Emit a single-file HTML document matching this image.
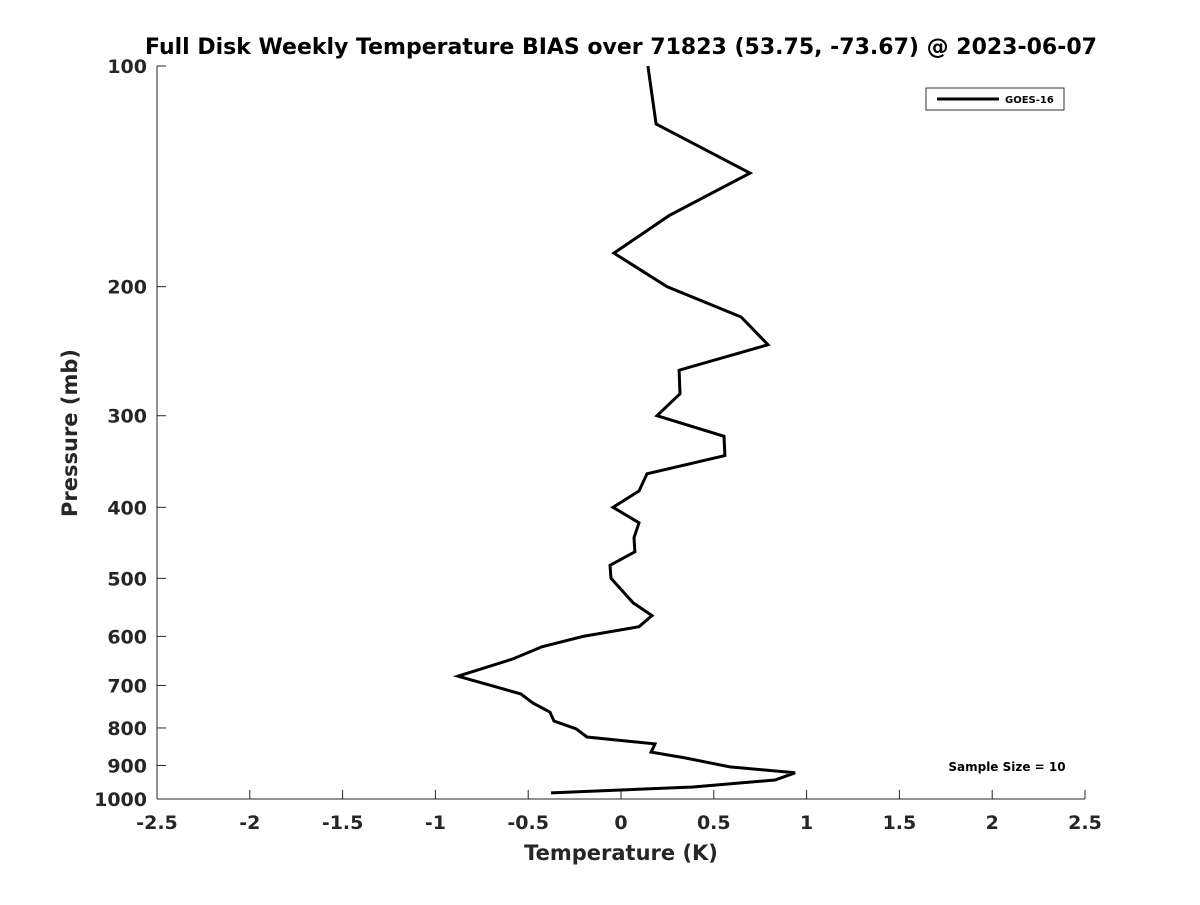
<!DOCTYPE html>
<html><head><meta charset="utf-8"><style>
body{margin:0;background:#fff;font-family:"Liberation Sans","DejaVu Sans",sans-serif}
</style></head><body>
<svg width="1200" height="900" xmlns="http://www.w3.org/2000/svg" id="svg" font-family="DejaVu Sans, Liberation Sans, sans-serif">
<rect width="1200" height="900" fill="#fff"/>
<text x="621" y="54" text-anchor="middle" font-size="22" font-weight="bold">Full Disk Weekly Temperature BIAS over 71823 (53.75, -73.67) @ 2023-06-07</text>
<g id="axes"></g>
<text x="621" y="860" text-anchor="middle" font-size="21" font-weight="bold" fill="#262626">Temperature (K)</text>
<text transform="translate(77,433) rotate(-90)" text-anchor="middle" font-size="21" font-weight="bold" fill="#262626">Pressure (mb)</text>
<g>
<rect x="926" y="88" width="138" height="22" fill="#fff" stroke="#000" stroke-width="0.8"/>
<line x1="937" y1="99" x2="999" y2="99" stroke="#000" stroke-width="3"/>
<text x="1005" y="103" font-size="10" font-weight="bold">GOES-16</text>
</g>
<text x="1007" y="771" text-anchor="middle" font-size="12" font-weight="bold">Sample Size = 10</text>
</svg>
<script>
const xTicks=[-2.5,-2,-1.5,-1,-0.5,0,0.5,1,1.5,2,2.5];
const xTickLabels=["-2.5","-2","-1.5","-1","-0.5","0","0.5","1","1.5","2","2.5"];
const yTicks=[100,200,300,400,500,600,700,800,900,1000];
const yTickLabels=["100","200","300","400","500","600","700","800","900","1000"];
const pressure=[100,120,140,160,180,200,220,240,260,280,300,320,340,360,380,400,420,440,460,480,500,540,562,582,600,620,644,680,719,740,761,783,802,823,841,863,879,904,921,942,963,981];
const bias=[0.145,0.189,0.695,0.259,-0.038,0.248,0.647,0.792,0.313,0.318,0.194,0.555,0.560,0.140,0.097,-0.043,0.097,0.070,0.075,-0.059,-0.054,0.065,0.167,0.097,-0.205,-0.426,-0.582,-0.878,-0.539,-0.474,-0.383,-0.361,-0.242,-0.183,0.183,0.162,0.345,0.587,0.938,0.830,0.388,-0.377];
const L=157,R=1085,T=66,B=799;
const xs=v=>L+(v+2.5)/5*(R-L);
const ys=p=>T+(Math.log10(p)-2)*(B-T);
const NS="http://www.w3.org/2000/svg";
const svg=document.getElementById('svg');const ax=document.getElementById('axes');
function mk(tag,attrs,parent){const e=document.createElementNS(NS,tag);for(const k in attrs)e.setAttribute(k,attrs[k]);(parent||svg).appendChild(e);return e;}
let e=mk('line',{x1:L,y1:B,x2:R,y2:B,stroke:'#262626','stroke-width':1},ax);


e=mk('line',{x1:L,y1:T,x2:L,y2:B,stroke:'#262626','stroke-width':1},ax);


xTicks.forEach((v,i)=>{const x=xs(v);
 let t=mk('line',{x1:x,y1:B,x2:x,y2:B-9,stroke:'#262626'},ax);
 
 
 let l=mk('text',{x:x,y:829,'text-anchor':'middle','font-size':19,'font-weight':'bold',fill:'#262626'},ax);l.textContent=xTickLabels[i];
 
 
});
yTicks.forEach((v,i)=>{const y=ys(v);
 let t=mk('line',{x1:L,y1:y,x2:L+9,y2:y,stroke:'#262626'},ax);
 
 
 let l=mk('text',{x:147,y:y+7,'text-anchor':'end','font-size':19,'font-weight':'bold',fill:'#262626'},ax);l.textContent=yTickLabels[i];
 
 
});
const pts=pressure.map((p,i)=>xs(bias[i]).toFixed(1)+','+ys(p).toFixed(1)).join(' ');
const pl=mk('polyline',{points:pts,fill:'none',stroke:'#000','stroke-width':3,'stroke-linejoin':'miter'});


</script>
</body></html>
